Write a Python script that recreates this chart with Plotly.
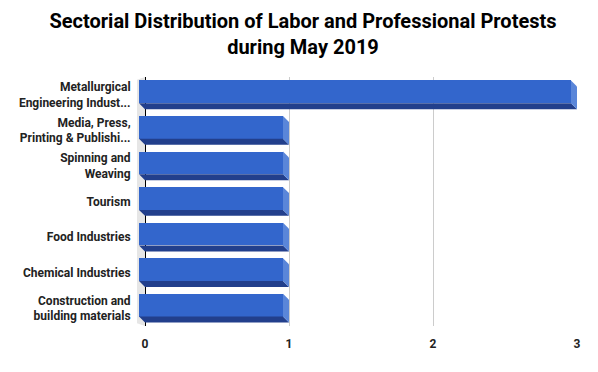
import plotly.graph_objects as go

categories = [
    "Metallurgical<br>Engineering Indust...",
    "Media, Press,<br>Printing & Publishi...",
    "Spinning and<br>Weaving",
    "Tourism",
    "Food Industries",
    "Chemical Industries",
    "Construction and<br>building materials",
]
values = [3, 1, 1, 1, 1, 1, 1]
x_ticks = [0, 1, 2, 3]

FRONT = "#3366cc"
SIDE = "#5a86d9"
BOTTOM = "#223f8c"
WALL = "#e6e6e6"

# 3D depth in data units
dx = 6 / 144.0
half = 0.404
band = 0.168
fw = 2 * half - band  # front face width (category units)

fig = go.Figure()
fig.add_trace(go.Bar(
    y=categories, x=values, base=[-dx] * len(values), orientation="h",
    marker=dict(color=FRONT, line=dict(width=0)),
    width=fw, offset=-half, hoverinfo="skip",
))

shapes = []
# left wall
shapes.append(dict(type="path", xref="x", yref="y", layer="below",
                   path=f"M {-0.0556},{-0.42} L 0,-0.5 L 0,6.5 L {-0.0556},6.42 Z",
                   fillcolor=WALL, line=dict(width=0)))
for i, v in enumerate(values):
    top = i - half
    fb = i - half + fw
    bot = i + half
    # bottom face
    shapes.append(dict(type="path", xref="x", yref="y", layer="above",
                       path=f"M {-dx},{fb} L {v-dx},{fb} L {v},{bot} L 0,{bot} Z",
                       fillcolor=BOTTOM, line=dict(width=0)))
    # right side face
    shapes.append(dict(type="path", xref="x", yref="y", layer="above",
                       path=f"M {v-dx},{top} L {v},{top+band} L {v},{bot} L {v-dx},{fb} Z",
                       fillcolor=SIDE, line=dict(width=0)))

fig.update_layout(
    width=590, height=364,
    margin=dict(l=129, r=21, t=69, b=46),
    paper_bgcolor="white", plot_bgcolor="white",
    font=dict(family="Roboto", color="#222222"),
    title=dict(text="<b>Sectorial Distribution of Labor and Professional Protests<br>during May 2019</b>",
               x=0.5, xanchor="center", y=0.944, yanchor="top",
               font=dict(family="Roboto", size=20, color="#000000")),
    showlegend=False,
    shapes=shapes,
    bargap=0,
)
fig.update_xaxes(range=[-0.0556, 3.0], tickvals=x_ticks, ticktext=[f"<b>{t}</b>" for t in x_ticks],
                 showgrid=True, gridcolor="#cccccc", gridwidth=1,
                 zeroline=True, zerolinecolor="#000000", zerolinewidth=1,
                 ticks="outside", ticklen=7, tickcolor="rgba(0,0,0,0)",
                 tickfont=dict(size=12, color="#222222"), showline=False, fixedrange=True)
fig.update_yaxes(autorange=False, range=[6.5, -0.5], type="category",
                 categoryorder="array", categoryarray=categories,
                 ticktext=[f"<b>{c}</b>" for c in categories], tickvals=categories,
                 ticks="outside", ticklen=3, tickcolor="rgba(0,0,0,0)",
                 tickfont=dict(size=12, color="#222222"), showgrid=False, showline=False)

fig.write_html("out.html")
